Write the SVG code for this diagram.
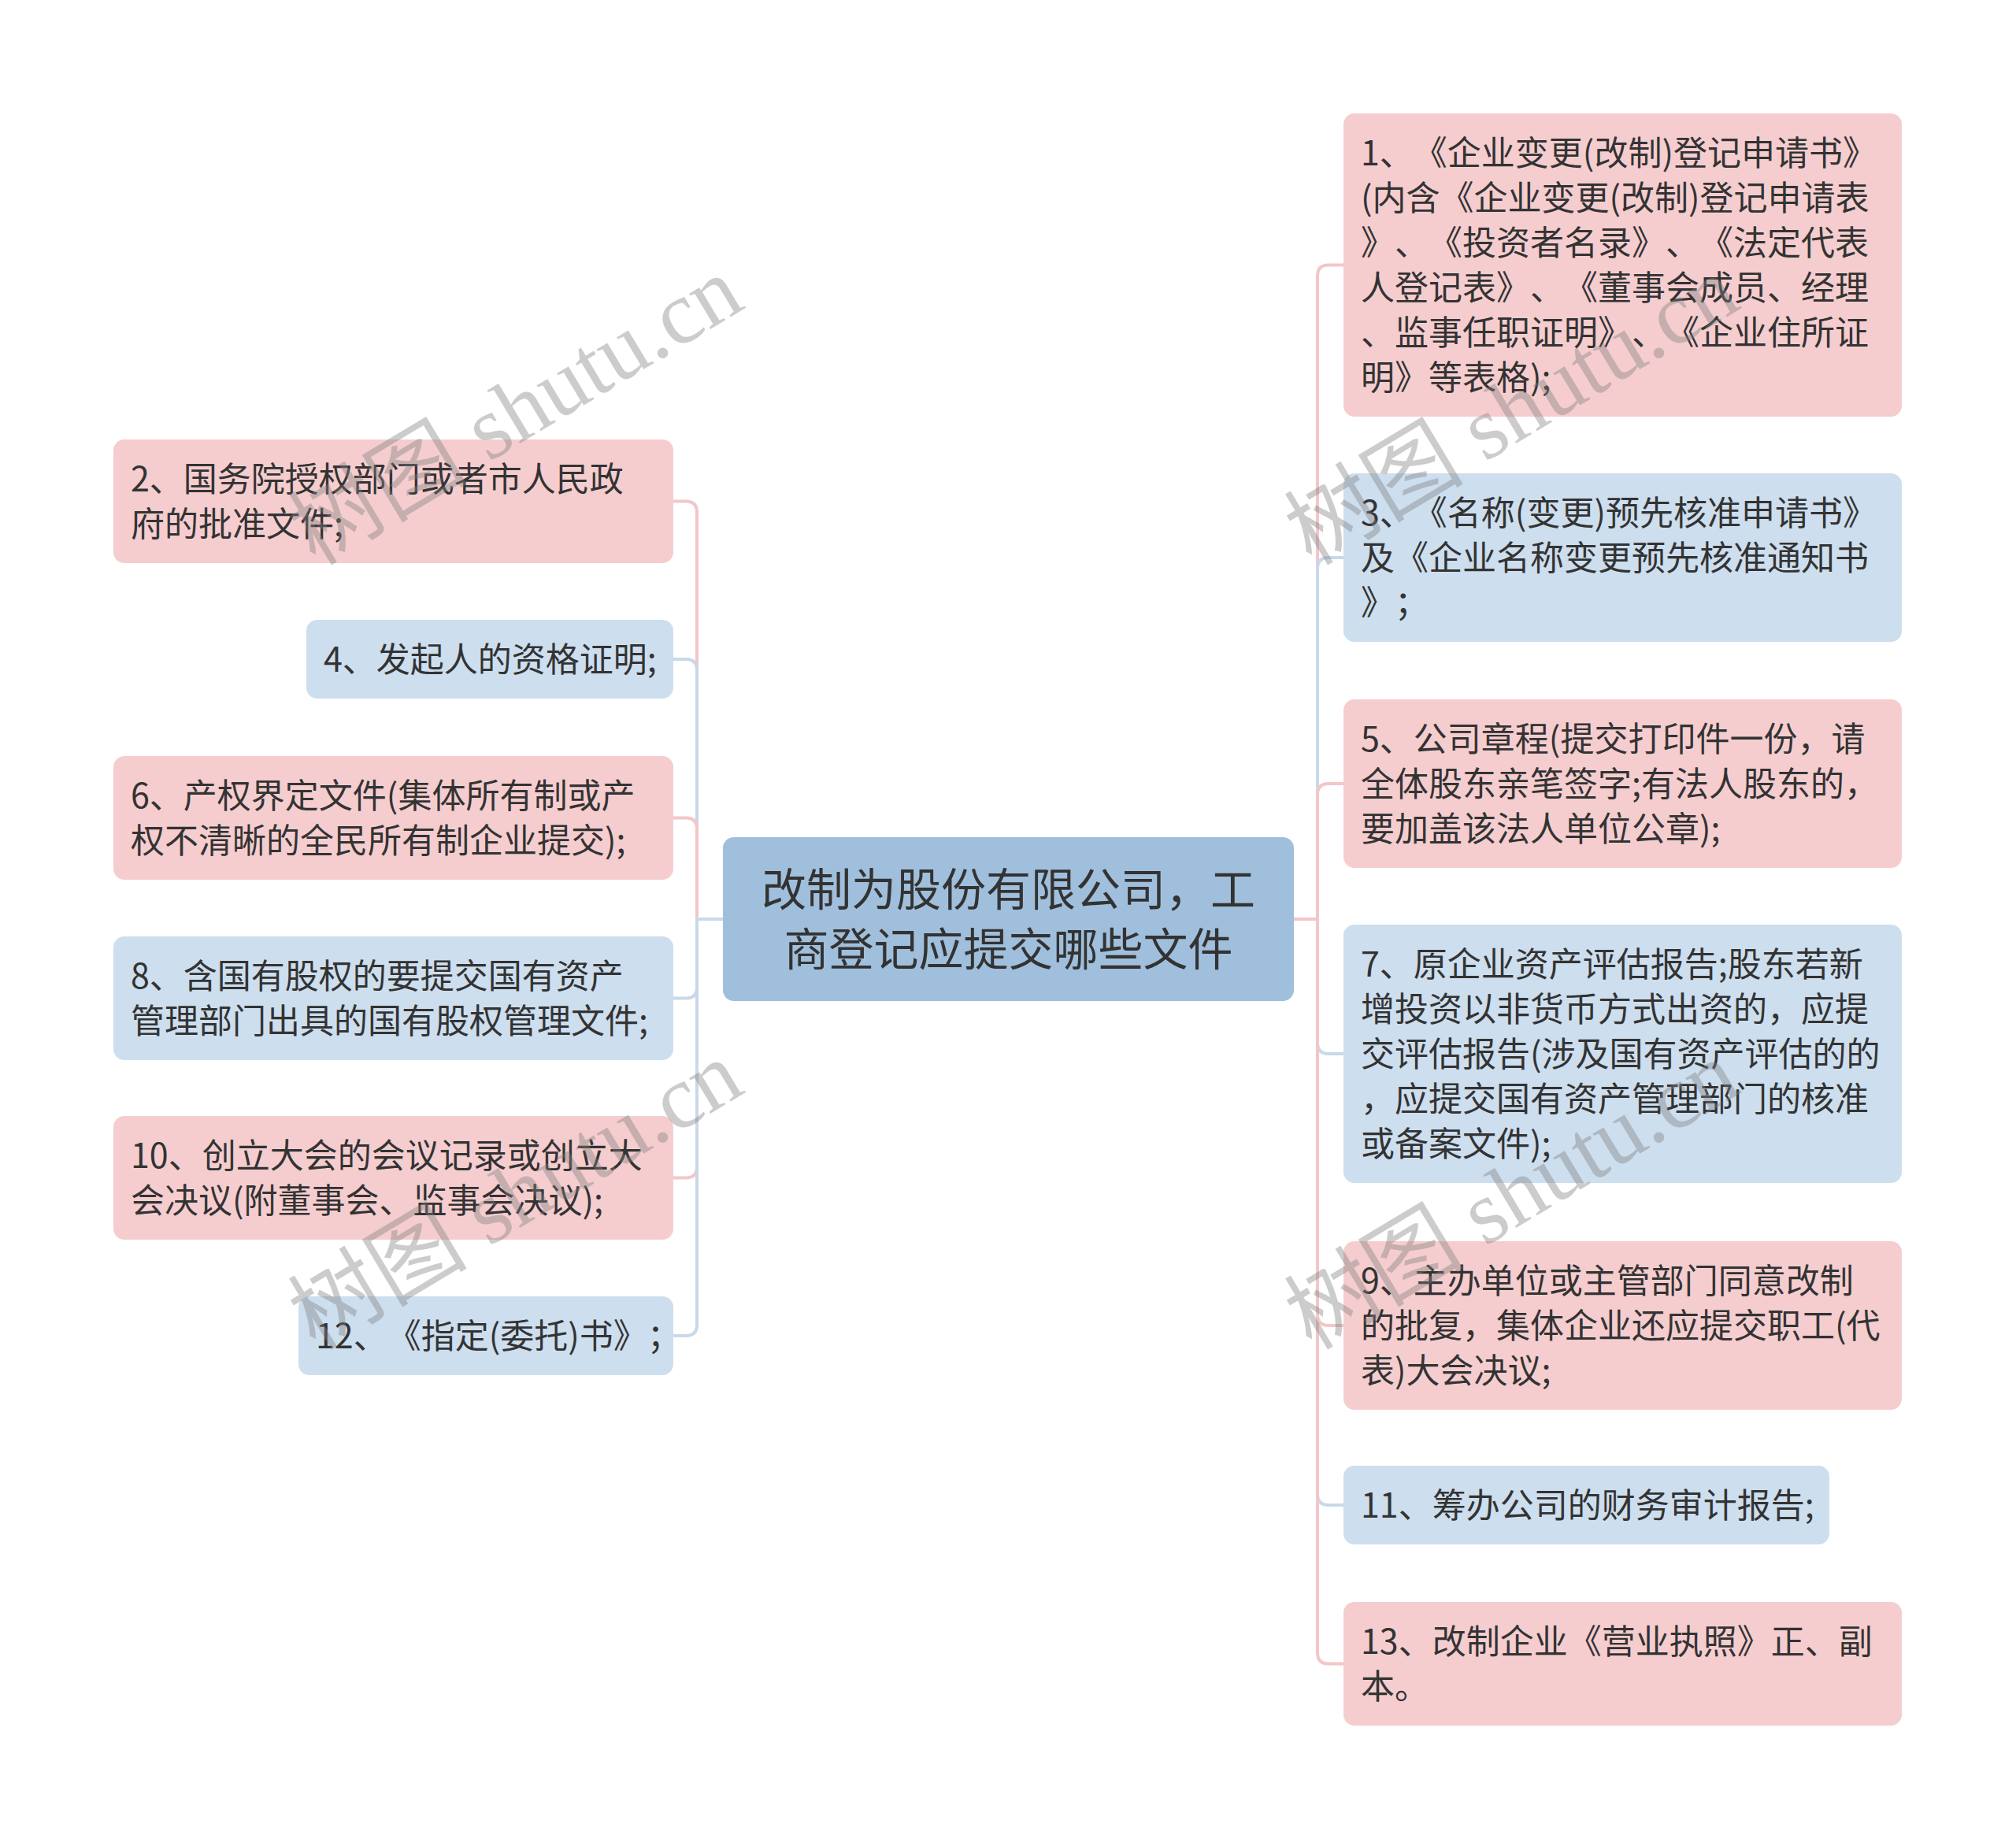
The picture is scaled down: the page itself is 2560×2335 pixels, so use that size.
<svg xmlns="http://www.w3.org/2000/svg" width="2560" height="2335" viewBox="0 0 2560 2335">
<defs>
<style>
text{text-spacing-trim:space-all;font-kerning:none}
.pk{fill:#f5cdcf}
.bl{fill:#cddeee}
.ct{fill:#a0bfdc}
.t{font-family:"Noto Sans CJK SC","Liberation Sans",sans-serif;font-size:43px;fill:#333333}
.tc{font-family:"Noto Sans CJK SC","Liberation Sans",sans-serif;font-size:57px;fill:#333333;text-anchor:middle}
.lp{fill:none;stroke:#f3c6c8;stroke-width:4}
.lb{fill:none;stroke:#c8d9ea;stroke-width:4}
.wm{font-family:"Liberation Serif","Noto Sans CJK SC",serif;font-size:114px;fill:#808080;fill-opacity:0.4;text-anchor:middle}
</style>
</defs>
<rect width="2560" height="2335" fill="#ffffff"/>
<g id="connectors">
<path class="lp" d="M918,1167 H885 V650.5 Q885,636.5 871,636.5 H855"/>
<path class="lb" d="M918,1167 H885 V851 Q885,837 871,837 H855"/>
<path class="lp" d="M918,1167 H885 V1052.5 Q885,1038.5 871,1038.5 H855"/>
<path class="lb" d="M918,1167 H885 V1253.5 Q885,1267.5 871,1267.5 H855"/>
<path class="lp" d="M918,1167 H885 V1481.5 Q885,1495.5 871,1495.5 H855"/>
<path class="lb" d="M918,1167 H885 V1682 Q885,1696 871,1696 H855"/>
<path class="lp" d="M1643,1167 H1673 V350.5 Q1673,336.5 1687,336.5 H1706"/>
<path class="lb" d="M1643,1167 H1673 V722 Q1673,708 1687,708 H1706"/>
<path class="lp" d="M1643,1167 H1673 V1009 Q1673,995 1687,995 H1706"/>
<path class="lb" d="M1643,1167 H1673 V1324 Q1673,1338 1687,1338 H1706"/>
<path class="lp" d="M1643,1167 H1673 V1669 Q1673,1683 1687,1683 H1706"/>
<path class="lb" d="M1643,1167 H1673 V1897 Q1673,1911 1687,1911 H1706"/>
<path class="lp" d="M1643,1167 H1673 V2098.5 Q1673,2112.5 1687,2112.5 H1706"/>
</g>
<g id="center">
<rect class="ct" x="918" y="1063" width="725" height="208" rx="14"/>
<text class="tc" x="1280.5" y="1150">改制为股份有限公司，工</text>
<text class="tc" x="1280.5" y="1226">商登记应提交哪些文件</text>
</g>
<g id="n2">
<rect class="pk" x="144" y="558" width="711" height="157" rx="14"/>
<text class="t" x="166" y="624">2、国务院授权部门或者市人民政</text>
<text class="t" x="166" y="681">府的批准文件;</text>
</g>
<g id="n4">
<rect class="bl" x="389" y="787" width="466" height="100" rx="14"/>
<text class="t" x="411" y="853">4、发起人的资格证明;</text>
</g>
<g id="n6">
<rect class="pk" x="144" y="960" width="711" height="157" rx="14"/>
<text class="t" x="166" y="1026">6、产权界定文件(集体所有制或产</text>
<text class="t" x="166" y="1083">权不清晰的全民所有制企业提交);</text>
</g>
<g id="n8">
<rect class="bl" x="144" y="1189" width="711" height="157" rx="14"/>
<text class="t" x="166" y="1255">8、含国有股权的要提交国有资产</text>
<text class="t" x="166" y="1312">管理部门出具的国有股权管理文件;</text>
</g>
<g id="n10">
<rect class="pk" x="144" y="1417" width="711" height="157" rx="14"/>
<text class="t" x="166" y="1483">10、创立大会的会议记录或创立大</text>
<text class="t" x="166" y="1540">会决议(附董事会、监事会决议);</text>
</g>
<g id="n12">
<rect class="bl" x="379" y="1646" width="476" height="100" rx="14"/>
<text class="t" x="401" y="1712">12、《指定(委托)书》；</text>
</g>
<g id="n1">
<rect class="pk" x="1706" y="144" width="709" height="385" rx="14"/>
<text class="t" x="1728" y="210">1、《企业变更(改制)登记申请书》</text>
<text class="t" x="1728" y="267">(内含《企业变更(改制)登记申请表</text>
<text class="t" x="1728" y="324">》、《投资者名录》、《法定代表</text>
<text class="t" x="1728" y="381">人登记表》、《董事会成员、经理</text>
<text class="t" x="1728" y="438">、监事任职证明》、《企业住所证</text>
<text class="t" x="1728" y="495">明》等表格);</text>
</g>
<g id="n3">
<rect class="bl" x="1706" y="601" width="709" height="214" rx="14"/>
<text class="t" x="1728" y="667">3、《名称(变更)预先核准申请书》</text>
<text class="t" x="1728" y="724">及《企业名称变更预先核准通知书</text>
<text class="t" x="1728" y="781">》；</text>
</g>
<g id="n5">
<rect class="pk" x="1706" y="888" width="709" height="214" rx="14"/>
<text class="t" x="1728" y="954">5、公司章程(提交打印件一份，请</text>
<text class="t" x="1728" y="1011">全体股东亲笔签字;有法人股东的，</text>
<text class="t" x="1728" y="1068">要加盖该法人单位公章);</text>
</g>
<g id="n7">
<rect class="bl" x="1706" y="1174" width="709" height="328" rx="14"/>
<text class="t" x="1728" y="1240">7、原企业资产评估报告;股东若新</text>
<text class="t" x="1728" y="1297">增投资以非货币方式出资的，应提</text>
<text class="t" x="1728" y="1354">交评估报告(涉及国有资产评估的的</text>
<text class="t" x="1728" y="1411">，应提交国有资产管理部门的核准</text>
<text class="t" x="1728" y="1468">或备案文件);</text>
</g>
<g id="n9">
<rect class="pk" x="1706" y="1576" width="709" height="214" rx="14"/>
<text class="t" x="1728" y="1642">9、主办单位或主管部门同意改制</text>
<text class="t" x="1728" y="1699">的批复，集体企业还应提交职工(代</text>
<text class="t" x="1728" y="1756">表)大会决议;</text>
</g>
<g id="n11">
<rect class="bl" x="1706" y="1861" width="617" height="100" rx="14"/>
<text class="t" x="1728" y="1927">11、筹办公司的财务审计报告;</text>
</g>
<g id="n13">
<rect class="pk" x="1706" y="2034" width="709" height="157" rx="14"/>
<text class="t" x="1728" y="2100">13、改制企业《营业执照》正、副</text>
<text class="t" x="1728" y="2157">本。</text>
</g>
<g id="watermarks">
<text class="wm" transform="translate(655,522) rotate(-31)" x="0" y="38">树图 shutu.cn</text>
<text class="wm" transform="translate(1920,522) rotate(-31)" x="0" y="38">树图 shutu.cn</text>
<text class="wm" transform="translate(655,1518) rotate(-31)" x="0" y="38">树图 shutu.cn</text>
<text class="wm" transform="translate(1920,1518) rotate(-31)" x="0" y="38">树图 shutu.cn</text>
</g>
</svg>
